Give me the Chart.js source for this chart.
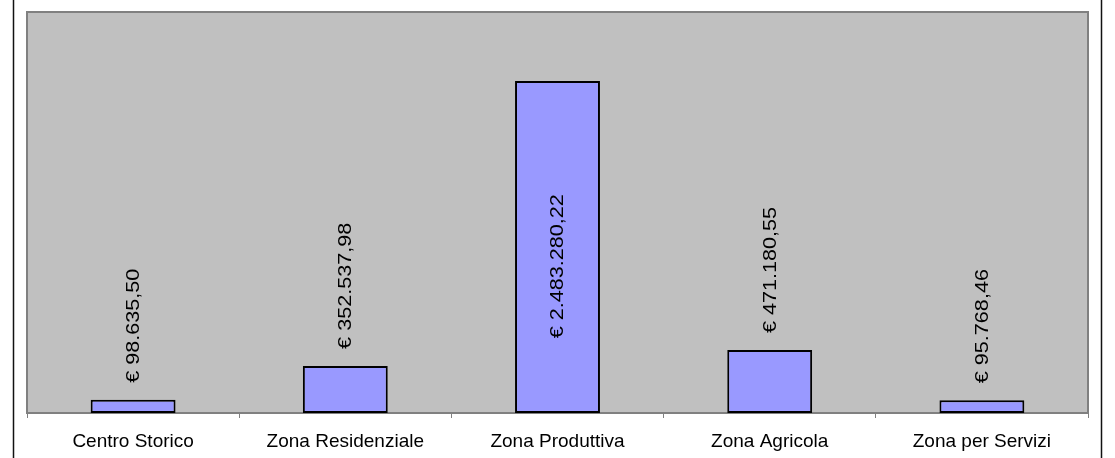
<!DOCTYPE html>
<html>
<head>
<meta charset="utf-8">
<script src="https://cdn.jsdelivr.net/npm/chart.js@4"></script>
<style>
  html, body { margin: 0; padding: 0; background: #fff; }
  canvas { display: block; }
</style>
</head>
<body>
<canvas id="myChart" width="1115" height="458"></canvas>
<script>
var categories = ["Centro Storico", "Zona Residenziale", "Zona Produttiva", "Zona Agricola", "Zona per Servizi"];
var values = [98635.50, 352537.98, 2483280.22, 471180.55, 95768.46];
var yMax = 3000000;

// 1234567.8 -> "1.234.567,80"
function euro(v) {
  var parts = v.toFixed(2).split(".");
  var intPart = parts[0].replace(/\B(?=(\d{3})+(?!\d))/g, ".");
  return "€ " + intPart + "," + parts[1];
}

var frame = {
  id: 'frame',
  beforeDraw: function(chart) {
    var c = chart.ctx, a = chart.chartArea;
    c.save();
    c.fillStyle = "#fff";
    c.fillRect(0, 0, chart.width, chart.height);
    // outer border (only sides visible)
    c.strokeStyle = "#111";
    c.lineWidth = 1.5;
    c.beginPath();
    c.moveTo(13.5, 0); c.lineTo(13.5, chart.height);
    c.moveTo(1101.5, 0); c.lineTo(1101.5, chart.height);
    c.stroke();
    // plot area
    c.fillStyle = "#C0C0C0";
    c.fillRect(a.left, a.top, a.right - a.left, a.bottom - a.top);
    c.strokeStyle = "#808080";
    c.lineWidth = 2;
    c.strokeRect(a.left, a.top, a.right - a.left, a.bottom - a.top);
    c.restore();
  }
};

var labels = {
  id: 'valueLabels',
  afterDatasetsDraw: function(chart) {
    var c = chart.ctx, a = chart.chartArea;
    var meta = chart.getDatasetMeta(0);
    var stretch = 1.2, gap = 17;
    c.save();
    c.font = "18px 'Liberation Sans', Arial, sans-serif";
    c.fillStyle = "#000";
    c.textAlign = "left";
    c.textBaseline = "middle";
    meta.data.forEach(function(bar, i) {
      var txt = euro(values[i]);
      var len = c.measureText(txt).width * stretch;
      var bottom = bar.y - gap;
      if (bottom - len < a.top) {
        // not enough room above: put it inside the bar
        bottom = bar.y + (bar.base - bar.y) * 0.775;
      }
      c.save();
      c.translate(bar.x, bottom);
      c.rotate(-Math.PI / 2);
      c.scale(stretch, 1);
      c.fillText(txt, 0, 1);
      c.restore();
    });
    c.restore();
  }
};

var ctx = document.getElementById("myChart").getContext('2d');
var myChart = new Chart(ctx, {
  type: 'bar',
  data: {
    labels: categories,
    datasets: [{
      data: values,
      backgroundColor: "#9999FF",
      borderColor: "#000",
      borderWidth: 2,
      borderSkipped: false,
      barPercentage: 0.4,
      categoryPercentage: 1
    }]
  },
  options: {
    responsive: false,
    animation: false,
    devicePixelRatio: 1,
    layout: { padding: { left: 27, right: 27, top: 12, bottom: 0 } },
    plugins: {
      legend: { display: false },
      tooltip: { enabled: false }
    },
    scales: {
      x: {
        offset: true,
        grid: {
          offset: true,
          drawOnChartArea: false,
          tickLength: 5,
          color: "#808080",
          lineWidth: 1
        },
        border: { color: "#808080", width: 2 },
        ticks: {
          color: "#000",
          padding: 12,
          maxRotation: 0,
          autoSkip: false,
          font: { family: "'Liberation Sans', Arial, sans-serif", size: 19 }
        },
        afterFit: function(scale) { scale.height = 45; }
      },
      y: {
        display: false,
        min: 0,
        max: yMax
      }
    }
  },
  plugins: [frame, labels]
});
</script>
</body>
</html>
